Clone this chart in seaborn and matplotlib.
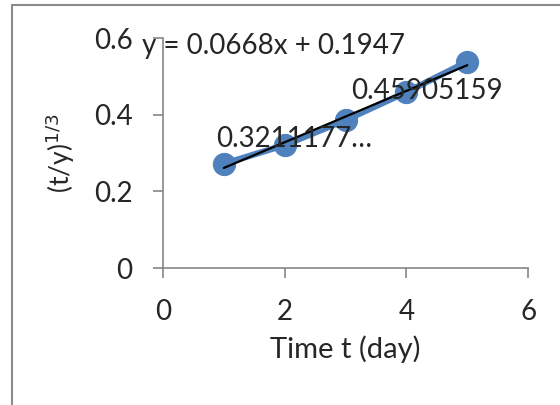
import matplotlib
matplotlib.use("Agg")
import matplotlib.pyplot as plt
import numpy as np
import pandas as pd
import seaborn as sns

# data
days = [1, 2, 3, 4, 5]
cube_root = [0.272, 0.321, 0.386, 0.459, 0.538]
point_labels = ["0.3211177…", "0.45905159"]
equation = "y = 0.0668x + 0.1947"
x_ticks = [0, 2, 4, 6]
y_ticks = [0, 0.2, 0.4, 0.6]

sns.set_style("white")
plt.rcParams["font.family"] = ["Lato", "DejaVu Sans"]

df = pd.DataFrame({"t": days, "v": cube_root})

fig = plt.figure(figsize=(5.6, 4.05), dpi=100)
ax = fig.add_axes([0.291, 0.338, 0.652, 0.568])

blue = "#4F81BD"
sns.lineplot(data=df, x="t", y="v", ax=ax, color=blue, linewidth=4.5,
             marker="o", markersize=16, markeredgecolor=blue)
sns.regplot(data=df, x="t", y="v", ax=ax, scatter=False, ci=None,
            line_kws={"color": "black", "linewidth": 1.6})

ax.set_xlim(0, 6)
ax.set_ylim(0, 0.6)
ax.set_xticks(x_ticks)
ax.set_yticks(y_ticks)
ax.set_xticklabels([str(t) for t in x_ticks])
ax.set_yticklabels(["0", "0.2", "0.4", "0.6"])

for side in ["top", "right"]:
    ax.spines[side].set_visible(False)
for side in ["left", "bottom"]:
    ax.spines[side].set_color("#868686")
    ax.spines[side].set_linewidth(1.2)
ax.tick_params(axis="both", direction="out", length=7, width=1.2,
               color="#868686", labelsize=20, left=True, bottom=True)
ax.tick_params(axis="x", pad=15)
ax.tick_params(axis="y", pad=15)

ax.set_xlabel("Time t (day)", fontsize=21, labelpad=8)
ax.set_ylabel("(t/y)$^{1/3}$", fontsize=19, labelpad=12)

ax.text(-0.35, 0.579, equation, fontsize=20, va="center", ha="left")
ax.text(0.88, 0.337, point_labels[0], fontsize=20, va="center", ha="left")
ax.text(3.1, 0.462, point_labels[1], fontsize=20, va="center", ha="left")

# outer chart frame (left and top edges visible)
fig.add_artist(plt.Line2D([12 / 560, 12 / 560], [0, 1 - 5 / 405],
                          transform=fig.transFigure, color="#8c8c8c", linewidth=1.5))
fig.add_artist(plt.Line2D([12 / 560, 1], [1 - 5 / 405, 1 - 5 / 405],
                          transform=fig.transFigure, color="#8c8c8c", linewidth=1.5))

fig.savefig("out.png", dpi=100)
